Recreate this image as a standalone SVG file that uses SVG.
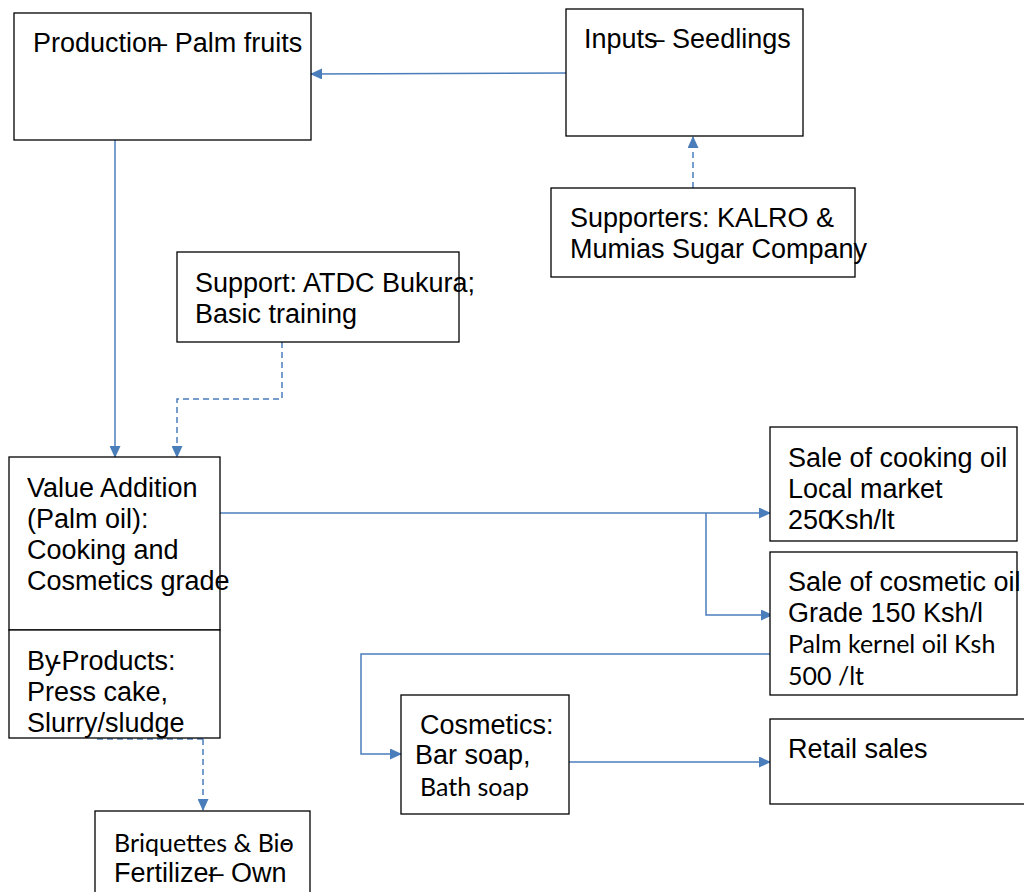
<svg xmlns="http://www.w3.org/2000/svg" width="1024" height="892" viewBox="0 0 1024 892">
<defs>
<marker id="ah" markerWidth="12" markerHeight="11" refX="11" refY="5.5" orient="auto" markerUnits="userSpaceOnUse">
<path d="M0,0 L12,5.5 L0,11 Z" fill="#4a7ebb"/>
</marker>
<style>
.box{fill:#fff;stroke:#000;stroke-width:1.3}
.t{font-family:"Liberation Sans",Arial,sans-serif;font-size:27px;fill:#000}
.c{font-family:Lato,"Liberation Sans",sans-serif;font-size:25px;fill:#000}
.ln{fill:none;stroke:#4a7ebb;stroke-width:1.5}
.ds{stroke-dasharray:6,4}
</style>
</defs>
<rect width="1024" height="892" fill="#fff"/>
<g id="connectors">
<path class="ln" d="M566,73 L311,74" marker-end="url(#ah)"/>
<path class="ln ds" d="M693,188 L693,137" marker-end="url(#ah)"/>
<path class="ln" d="M115,140 L115,457" marker-end="url(#ah)"/>
<path class="ln ds" d="M282,342 L282,399 L177,399 L177,457" marker-end="url(#ah)"/>
<path class="ln" d="M220,513 L770,513" marker-end="url(#ah)"/>
<path class="ln" d="M706,513 L706,615 L772,615" marker-end="url(#ah)"/>
<path class="ln" d="M770,654 L361,654 L361,754 L401,754" marker-end="url(#ah)"/>
<path class="ln" d="M569,762 L770,762" marker-end="url(#ah)"/>
<path class="ln ds" d="M97,739 L203,739"/>
<path class="ln ds" d="M203,739 L203,810" marker-end="url(#ah)"/>
</g>
<g id="production"><rect class="box" x="14" y="13" width="297" height="127"/><text class="t" x="33" y="52">Productio<tspan>n</tspan><tspan dx="-10">–</tspan> Palm fruits</text></g>
<g id="inputs"><rect class="box" x="566" y="9" width="237" height="127"/><text class="t" x="584" y="48">Inputs<tspan dx="-8">–</tspan> Seedlings</text></g>
<g id="supporters"><rect class="box" x="551" y="188" width="304" height="89"/><text class="t" x="570" y="227">Supporters: KALRO &amp;</text><text class="t" x="570" y="258">Mumias Sugar Company</text></g>
<g id="support"><rect class="box" x="177" y="252" width="282" height="90"/><text class="t" x="195" y="292">Support: ATDC Bukura;</text><text class="t" x="195" y="323">Basic training</text></g>
<g id="value"><rect class="box" x="9" y="457" width="211" height="173"/><text class="t" x="27" y="497">Value Addition</text><text class="t" x="27" y="528">(Palm oil):</text><text class="t" x="27" y="559">Cooking and</text><text class="t" x="27" y="590">Cosmetics grade</text></g>
<g id="byproducts"><rect class="box" x="9" y="630" width="211" height="108"/><text class="t" x="27" y="670">By<tspan dx="-6">-</tspan>Products:</text><text class="t" x="27" y="701">Press cake,</text><text class="t" x="27" y="732">Slurry/sludge</text></g>
<g id="cooking"><rect class="box" x="770" y="427" width="247" height="114"/><text class="t" x="788" y="467">Sale of cooking oil</text><text class="t" x="788" y="498">Local market</text><text class="t" x="788" y="529">250<tspan dx="-6">Ksh/lt</tspan></text></g>
<g id="cosmetic"><rect class="box" x="770" y="552" width="247" height="143"/><text class="t" x="788" y="591">Sale of cosmetic oil</text><text class="t" x="788" y="622">Grade 150 Ksh/l</text><text class="c" x="788" y="653">Palm kernel oil Ksh</text><text class="c" x="788" y="685">500 /lt</text></g>
<g id="cosmetics"><rect class="box" x="401" y="695" width="168" height="119"/><text class="t" x="420" y="734">Cosmetics:</text><text class="t" x="415" y="764">Bar soap,</text><text class="c" x="420" y="796">Bath soap</text></g>
<g id="retail"><rect class="box" x="770" y="719" width="260" height="85"/><text class="t" x="788" y="758">Retail sales</text></g>
<g id="briquettes"><rect class="box" x="95" y="811" width="215" height="90"/><text class="c" x="114" y="852">Briquettes &amp; Bio<tspan dx="-12">-</tspan></text><text class="t" x="114" y="882">Fertilize<tspan>r</tspan><tspan dx="-9">–</tspan> Own</text></g>
</svg>
